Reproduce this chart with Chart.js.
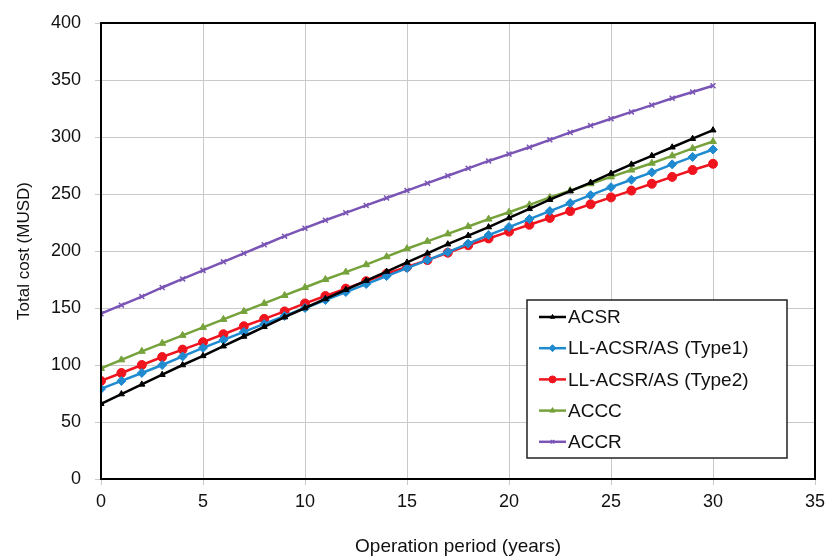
<!DOCTYPE html>
<html>
<head>
<meta charset="utf-8">
<script src="https://cdn.jsdelivr.net/npm/chart.js@4.4.1/dist/chart.umd.min.js"></script>
<style>
html,body{margin:0;padding:0;background:#fff;}
#wrap{position:relative;width:826px;height:558px;}
</style>
</head>
<body>
<div id="wrap"><canvas id="c" width="826" height="558"></canvas></div>
<script>
// ---- data ----
const years = [0,1,2,3,4,5,6,7,8,9,10,11,12,13,14,15,16,17,18,19,20,21,22,23,24,25,26,27,28,29,30];
const acsr  = [66,74.5,83,91.5,100,108,116.5,125,133.5,142,150,158,166,174,182,190,198,206,213.5,221,229,237,245,252.5,260,268,276,283.5,291,298.5,306];
const type1 = [79,86,93,100,107.5,115,122,129,136,143,150,157,164,171,178,185,192,199,206.5,214,221,228,235,242,249,256,262.5,269,276,282.5,289];
const type2 = [86,93,100,107,113.5,120,127,134,140.5,147,154,160.5,167,173.5,180,186,192,198.5,205,211,217,223,229,235,241,247,253,259,265,271,276.5];
const accc  = [97,104.5,112,119,126,133,140,147,154,161,168,175,181.5,188,195,202,208.5,215,221.5,228,234,240.5,247,253,259,265,271,277,283.5,290,296];
const accr  = [145,152.5,160,168,175.5,183,190.5,198,205.5,213,220,227,233.5,240,246.5,253,259.5,266,272.5,279,285,291,297.5,304,310,316,322,328,334,339.5,345];
const seriesNames = ['ACSR','LL-ACSR/AS (Type1)','LL-ACSR/AS (Type2)','ACCC','ACCR'];
const xTicks = [0,5,10,15,20,25,30,35];
const yTicks = [0,50,100,150,200,250,300,350,400];

const FONT = "'Liberation Sans', Arial, sans-serif";
const pts = arr => years.map((x,i)=>({x:x,y:arr[i]}));

const styles = [
  {color:'#000000', style:'triangle', r:3.5},
  {color:'#1f8ad0', style:'rectRot', r:4.5},
  {color:'#f0141e', style:'circle', r:4.5},
  {color:'#76a23c', style:'triangle', r:4},
  {color:'#7a55b5', style:'crossRot', r:3.5}
];
const allData = [acsr,type1,type2,accc,accr];
const datasets = allData.map((d,i)=>({
  label: seriesNames[i],
  data: pts(d),
  borderColor: styles[i].color,
  backgroundColor: styles[i].color,
  borderWidth: 2.5,
  pointStyle: styles[i].style,
  pointRadius: styles[i].r,
  pointBorderWidth: i===4 ? 1.5 : 1,
  pointBorderColor: styles[i].color,
  pointBackgroundColor: styles[i].color,
  tension: 0,
  order: i+1
}));

const frame = {
  id:'frame',
  afterDatasetsDraw(chart){
    const {ctx, chartArea:a} = chart;
    ctx.save();
    ctx.strokeStyle = '#000';
    ctx.lineWidth = 2;
    ctx.strokeRect(a.left, a.top, a.right-a.left, a.bottom-a.top);
    ctx.restore();
  }
};

const boxLegend = {
  id:'boxLegend',
  afterDraw(chart){
    const {ctx, chartArea:a} = chart;
    const w = 260, h = 158;
    const x0 = a.right - 28 - w, y0 = a.bottom - 21 - h;
    ctx.save();
    ctx.fillStyle = '#fff';
    ctx.fillRect(x0, y0, w, h);
    ctx.strokeStyle = '#222';
    ctx.lineWidth = 1.5;
    ctx.strokeRect(x0, y0, w, h);
    ctx.font = '19px ' + FONT;
    ctx.textBaseline = 'middle';
    chart.data.datasets.forEach((ds,i)=>{
      const cy = y0 + 17 + i*31.2;
      const lx = x0 + 12;
      ctx.strokeStyle = ds.borderColor;
      ctx.lineWidth = 2.5;
      ctx.beginPath(); ctx.moveTo(lx, cy); ctx.lineTo(lx+27, cy); ctx.stroke();
      if (Chart.helpers && Chart.helpers.drawPoint){
        ctx.fillStyle = ds.pointBackgroundColor;
        ctx.strokeStyle = ds.pointBorderColor;
        ctx.lineWidth = ds.pointBorderWidth;
        Chart.helpers.drawPoint(ctx, {pointStyle: ds.pointStyle, radius: Math.max(2.5, ds.pointRadius-1), borderWidth: ds.pointBorderWidth}, lx+13.5, cy);
      }
      ctx.fillStyle = '#111';
      ctx.fillText(ds.label, lx + 29, cy + 1);
    });
    ctx.restore();
  }
};

new Chart(document.getElementById('c'), {
  type:'line',
  data:{datasets},
  plugins:[frame, boxLegend],
  options:{
    responsive:false,
    animation:false,
    events:[],
    layout:{padding:{left:0, top:23, right:11, bottom:0}},
    plugins:{legend:{display:false}, tooltip:{enabled:false}},
    scales:{
      x:{
        type:'linear', min:0, max:35,
        afterBuildTicks(ax){ ax.ticks = xTicks.map(v=>({value:v})); },
        afterFit(ax){ ax.height = 79; ax.paddingRight = 0; ax.paddingLeft = 0; },
        grid:{color:'#c9c9c9', lineWidth:1, tickLength:6, drawTicks:true},
        border:{display:false},
        ticks:{color:'#111', font:{family:FONT, size:18}, padding:6, maxRotation:0},
        title:{display:true, text:'Operation period (years)', color:'#111', font:{family:FONT, size:19}, padding:{top:14, bottom:0}}
      },
      y:{
        type:'linear', min:0, max:400,
        afterBuildTicks(ax){ ax.ticks = yTicks.map(v=>({value:v})); },
        afterFit(ax){ ax.width = 101; ax.paddingTop = 0; ax.paddingBottom = 0; },
        grid:{color:'#c9c9c9', lineWidth:1, tickLength:6, drawTicks:true},
        border:{display:false},
        ticks:{color:'#111', font:{family:FONT, size:18}, padding:14},
        title:{display:true, text:'Total cost (MUSD)', color:'#111', font:{family:FONT, size:17}, padding:{top:14, bottom:4}}
      }
    }
  }
});
</script>
</body>
</html>
